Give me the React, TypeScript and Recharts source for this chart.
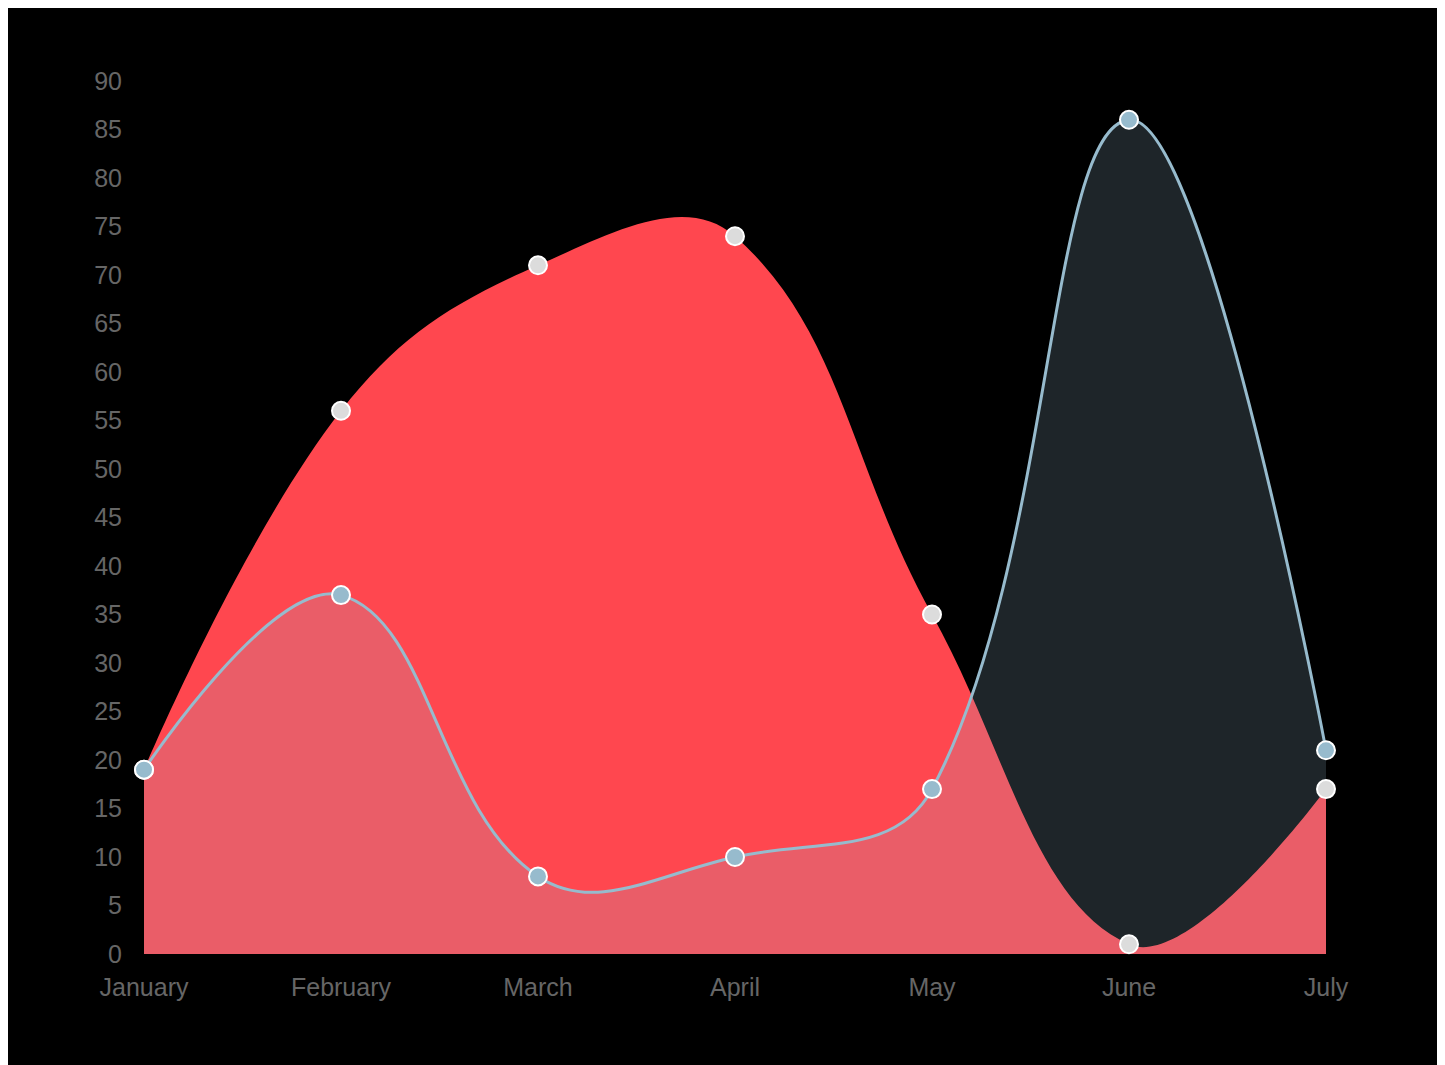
import React from 'react';
import { AreaChart, Area, XAxis, YAxis } from 'recharts';

const months = ['January', 'February', 'March', 'April', 'May', 'June', 'July'];
const redSeries = [19, 56, 71, 74, 35, 1, 17];
const blueSeries = [19, 37, 8, 10, 17, 86, 21];
const yTicks = [0, 5, 10, 15, 20, 25, 30, 35, 40, 45, 50, 55, 60, 65, 70, 75, 80, 85, 90];

const data = months.map((m, i) => ({ month: m, red: redSeries[i], blue: blueSeries[i] }));

const TENSION = 0.4;

// Chart.js v1 style bezier spline as a d3-shape compatible curve factory
class ChartJsCurve {
  _context: any;
  _line: any;
  _x: number[] | null = null;
  _y: number[] | null = null;
  constructor(context: any) {
    this._context = context;
  }
  areaStart() {
    this._line = 0;
  }
  areaEnd() {
    this._line = NaN;
  }
  lineStart() {
    this._x = [];
    this._y = [];
  }
  point(x: number, y: number) {
    this._x!.push(+x);
    this._y!.push(+y);
  }
  lineEnd() {
    const xs = this._x || [];
    const ys = this._y || [];
    const n = xs.length;
    const ctx = this._context;
    if (n) {
      if (this._line) ctx.lineTo(xs[0], ys[0]);
      else ctx.moveTo(xs[0], ys[0]);
      if (n === 2) {
        ctx.lineTo(xs[1], ys[1]);
      } else if (n > 2) {
        const inner: [number, number][] = [];
        const outer: [number, number][] = [];
        for (let i = 0; i < n; i++) {
          const p = i > 0 ? i - 1 : i;
          const q = i < n - 1 ? i + 1 : i;
          const t = i > 0 && i < n - 1 ? TENSION : 0;
          const d01 = Math.hypot(xs[i] - xs[p], ys[i] - ys[p]);
          const d12 = Math.hypot(xs[q] - xs[i], ys[q] - ys[i]);
          const s = d01 + d12;
          const fa = s ? (t * d01) / s : 0;
          const fb = s ? (t * d12) / s : 0;
          inner.push([xs[i] - fa * (xs[q] - xs[p]), ys[i] - fa * (ys[q] - ys[p])]);
          outer.push([xs[i] + fb * (xs[q] - xs[p]), ys[i] + fb * (ys[q] - ys[p])]);
        }
        for (let i = 1; i < n; i++) {
          ctx.bezierCurveTo(outer[i - 1][0], outer[i - 1][1], inner[i][0], inner[i][1], xs[i], ys[i]);
        }
      }
    }
    if (this._line || (this._line !== 0 && n === 1)) ctx.closePath();
    this._line = 1 - this._line;
    this._x = this._y = null;
  }
}

function chartJsCurve(context: any) {
  return new ChartJsCurve(context);
}

const tickStyle = {
  fill: '#666666',
  fontSize: 25,
  fontFamily: '"Liberation Sans", Arial, Helvetica, sans-serif',
};

export default function App() {
  return (
    <div style={{ marginLeft: -3, width: 1432, height: 1060, background: '#000000' }}>
      <AreaChart
        width={1432}
        height={1057}
        data={data}
        margin={{ top: 73, right: 111, bottom: 0, left: 0 }}
      >
        <XAxis
          dataKey="month"
          axisLine={false}
          tickLine={false}
          tickSize={0}
          tickMargin={24}
          height={111}
          interval={0}
          tick={tickStyle}
        />
        <YAxis
          type="number"
          domain={[0, 90]}
          ticks={yTicks}
          interval={0}
          axisLine={false}
          tickLine={false}
          tickSize={0}
          tickMargin={22}
          width={139}
          tick={tickStyle}
        />
        <Area
          dataKey="red"
          type={chartJsCurve as any}
          stroke="none"
          fill="#FF474F"
          fillOpacity={1}
          dot={{ r: 9, fill: '#DCDCDC', stroke: '#FFFFFF', strokeWidth: 2, fillOpacity: 1 }}
          activeDot={false}
          isAnimationActive={false}
        />
        <Area
          dataKey="blue"
          type={chartJsCurve as any}
          stroke="#97BBCD"
          strokeWidth={3}
          fill="rgb(151,187,205)"
          fillOpacity={0.2}
          dot={{ r: 9, fill: '#97BBCD', stroke: '#FFFFFF', strokeWidth: 2, fillOpacity: 1 }}
          activeDot={false}
          isAnimationActive={false}
        />
      </AreaChart>
    </div>
  );
}
